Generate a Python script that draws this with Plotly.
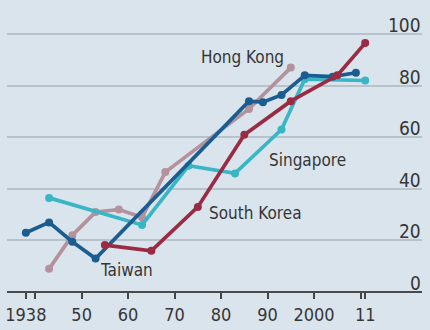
import plotly.graph_objects as go

# Series: (year, value)
hk_years = [1943, 1948, 1953, 1958, 1963, 1968, 1986, 1995]
hk_vals = [9, 22, 31, 32, 29, 46.5, 71, 87]

sg_years = [1943, 1963, 1973, 1983, 1993, 1998, 2011]
sg_vals = [36.5, 26, 49, 46, 63, 82.5, 82]

tw_years = [1938, 1943, 1948, 1953, 1986, 1989, 1993, 1998, 2004, 2009]
tw_vals = [23, 27, 19.5, 13, 74, 73.6, 76.4, 84, 83.5, 85]

kr_years = [1955, 1965, 1975, 1985, 1995, 2005, 2011]
kr_vals = [18.2, 16, 33, 61, 74, 84, 96.5]

x_tickvals = [1938, 1940, 1950, 1960, 1970, 1980, 1990, 2000, 2010, 2011]
x_ticktext = ["1938", "", "50", "60", "70", "80", "90", "2000", "", "11"]
y_tickvals = [0, 20, 40, 60, 80, 100]
y_ticktext = ["0", "20", "40", "60", "80", "100"]

FONT = "Liberation Sans Narrow, DejaVu Sans Condensed, sans-serif"
BG = "#dae4ec"
TEXT = "#363636"

series = [
    ("Hong Kong", hk_years, hk_vals, "#b4929d"),
    ("Singapore", sg_years, sg_vals, "#39b6c6"),
    ("Taiwan", tw_years, tw_vals, "#1b5d91"),
    ("South Korea", kr_years, kr_vals, "#9a2b43"),
]

fig = go.Figure()
for name, xs, ys, color in series:
    fig.add_trace(go.Scatter(
        x=xs, y=ys, mode="lines+markers", name=name,
        line=dict(color=color, width=3.7),
        marker=dict(color=color, size=8),
        showlegend=False,
    ))

# Series labels placed in data coordinates
labels = [
    ("Hong Kong", 1984.5, 91),
    ("Singapore", 1998.6, 51),
    ("South Korea", 1987.3, 30.5),
    ("Taiwan", 1959.6, 8.5),
]
for text, lx, ly in labels:
    fig.add_annotation(x=lx, y=ly, text=text, showarrow=False,
                       xanchor="center", yanchor="middle",
                       font=dict(family=FONT, size=17, color=TEXT))

# Value labels sitting just above each gridline at the right edge
for v, t in zip(y_tickvals, y_ticktext):
    fig.add_annotation(x=422 / 430, xref="paper", y=v, yref="y", text=t,
                       showarrow=False, xanchor="right", yanchor="bottom",
                       borderpad=0, yshift=-3,
                       font=dict(family=FONT, size=19, color=TEXT))

fig.update_layout(
    width=430, height=330,
    margin=dict(l=0, r=0, t=0, b=0),
    paper_bgcolor=BG, plot_bgcolor=BG,
    xaxis=dict(
        domain=[5 / 430, 422 / 430],
        range=[1933.94, 2023.23],
        showgrid=False, zeroline=False, showline=False,
        anchor="free", position=14.7 / 127.9,
        tickmode="array", tickvals=x_tickvals, ticktext=x_ticktext,
        ticks="outside", ticklen=6, tickwidth=1.5, tickcolor="#444",
        tickfont=dict(family=FONT, size=18, color=TEXT),
    ),
    yaxis=dict(
        range=[-14.7, 113.2],
        showticklabels=False, ticks="", showline=False,
        tickmode="array", tickvals=y_tickvals,
        showgrid=True, gridcolor="#b7c2ca", gridwidth=1.5,
        zeroline=True, zerolinecolor="#4a4a4a", zerolinewidth=1.5,
    ),
)

fig.write_html("out.html")
